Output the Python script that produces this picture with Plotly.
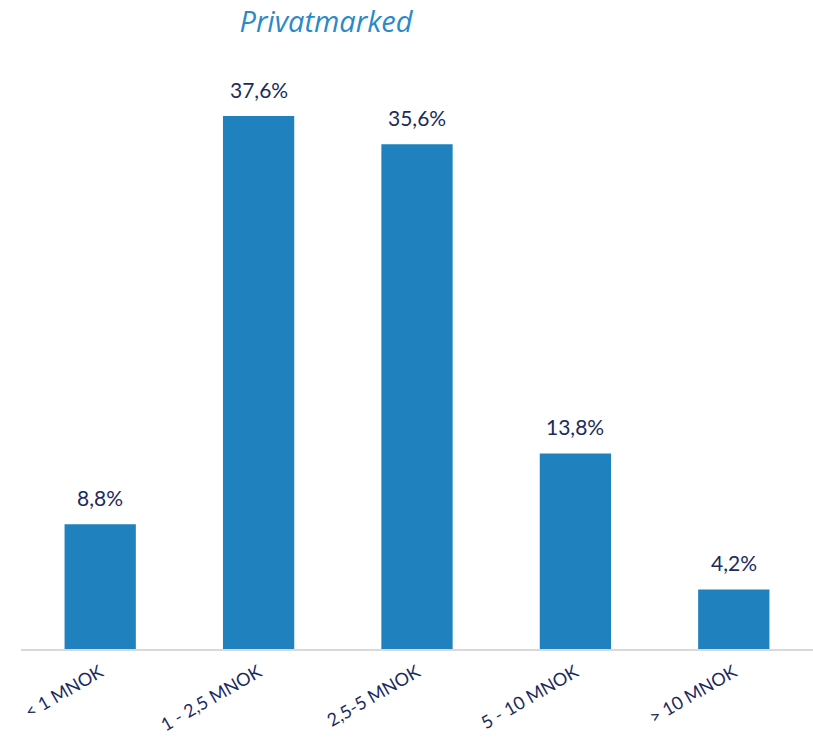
import plotly.graph_objects as go

# Share of transactions by deal size, private market
categories = ["< 1 MNOK", "1 - 2,5 MNOK", "2,5-5 MNOK", "5 - 10 MNOK", "> 10 MNOK"]
shares = [8.8, 37.6, 35.6, 13.8, 4.2]
share_labels = [f"{v:.1f}".replace(".", ",") + "%" for v in shares]

BAR_BLUE = "#1f82bf"
NAVY = "#1b2b5e"
FONT = "Lato"

fig = go.Figure()
fig.add_trace(go.Bar(
    x=categories,
    y=shares,
    marker=dict(color=BAR_BLUE, line=dict(width=0)),
    width=0.45,
    hoverinfo="skip",
))

# Value labels above each bar
for cat, val, lab in zip(categories, shares, share_labels):
    fig.add_annotation(
        x=cat, y=val, xref="x", yref="y",
        text=lab, showarrow=False,
        yanchor="bottom", yshift=12,
        font=dict(family=FONT, size=21, color=NAVY),
    )

fig.update_layout(
    width=813,
    height=739,
    margin=dict(l=21, r=0, t=82, b=90, autoexpand=False),
    plot_bgcolor="white",
    paper_bgcolor="white",
    showlegend=False,
    title=dict(
        text="<i>Privatmarked</i>",
        font=dict(family="Open Sans", size=29, color="#2a8ac6"),
        x=326 / 813, xanchor="center",
        y=1 - 22 / 739, yanchor="middle",
    ),
    xaxis=dict(
        type="category",
        categoryorder="array",
        categoryarray=categories,
        range=[-0.5, 4.5],
        automargin=False,
        tickangle=-30,
        tickfont=dict(family=FONT, size=18, color=NAVY),
        ticklabelstandoff=4,
        showgrid=False,
        zeroline=False,
        showline=True,
        linecolor="#d9d9d9",
        linewidth=2,
        ticks="",
        fixedrange=True,
    ),
    yaxis=dict(
        range=[0, 40],
        visible=False,
        fixedrange=True,
    ),
)

fig.write_html("out.html")
